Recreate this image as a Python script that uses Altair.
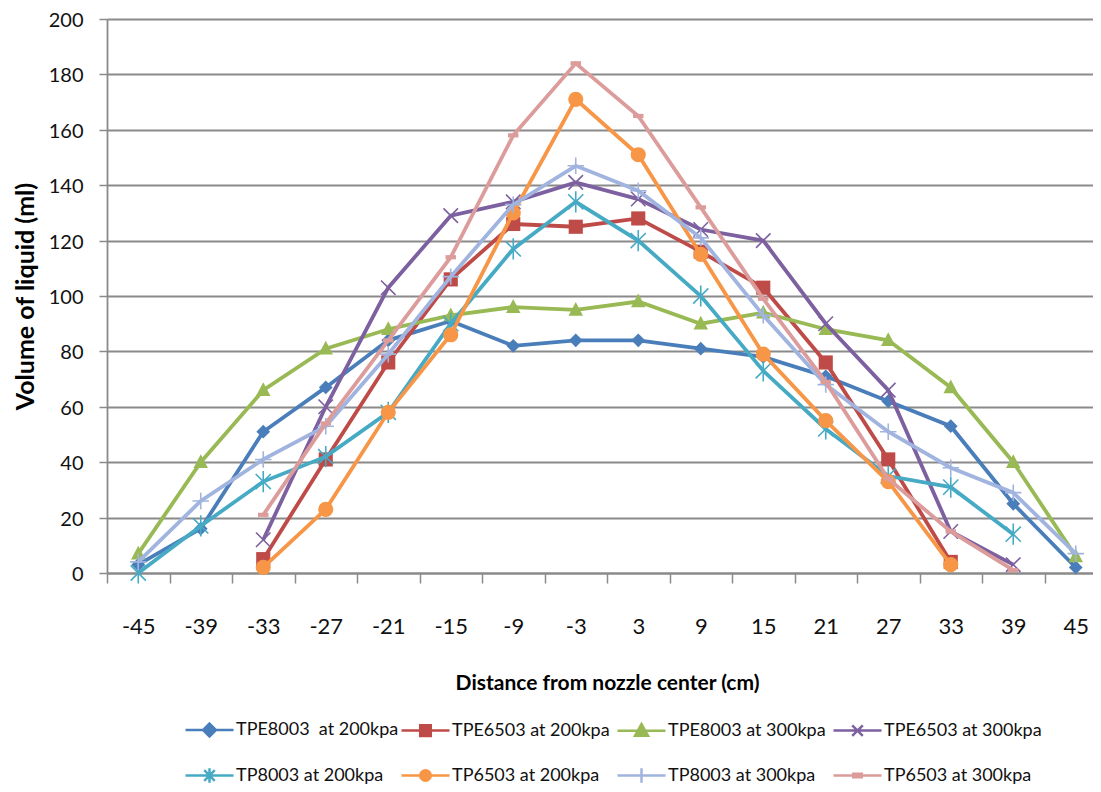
import altair as alt
import pandas as pd

# ---------------- data ----------------
distance = [-45, -39, -33, -27, -21, -15, -9, -3, 3, 9, 15, 21, 27, 33, 39, 45]
series = [
    "TPE8003\u00a0 at 200kpa", "TPE6503 at 200kpa", "TPE8003 at 300kpa", "TPE6503 at 300kpa",
    "TP8003 at 200kpa", "TP6503 at 200kpa", "TP8003 at 300kpa", "TP6503 at 300kpa",
]
N = None
tpe8003_200 = [3, 16, 51, 67, 84, 91, 82, 84, 84, 81, 78, 71, 62, 53, 25, 2]
tpe6503_200 = [N, N, 5, 41, 76, 106, 126, 125, 128, 116, 103, 76, 41, 4, N, N]
tpe8003_300 = [7, 40, 66, 81, 88, 93, 96, 95, 98, 90, 94, 88, 84, 67, 40, 6]
tpe6503_300 = [N, N, 12, 60, 103, 129, 134, 141, 135, 124, 120, 90, 66, 15, 3, N]
tp8003_200 = [0, 17, 33, 42, 58, 90, 117, 134, 120, 100, 73, 52, 35, 31, 14, N]
tp6503_200 = [N, N, 2, 23, 58, 86, 130, 171, 151, 115, 79, 55, 33, 3, N, N]
tp8003_300 = [4, 26, 41, 53, 79, 107, 133, 147, 138, 121, 93, 68, 51, 38, 29, 7]
tp6503_300 = [N, N, 21, 54, 84, 114, 158, 184, 165, 132, 99, 69, 34, 15, 1, N]
values = [tpe8003_200, tpe6503_200, tpe8003_300, tpe6503_300,
          tp8003_200, tp6503_200, tp8003_300, tp6503_300]
y_ticks = [0, 20, 40, 60, 80, 100, 120, 140, 160, 180, 200]

# ---------------- styles ----------------
colors = ["#4A7EBB", "#BE4B48", "#98B954", "#7D60A0",
          "#46AAC5", "#F79646", "#A0B4DF", "#DC9C9B"]
marker_paths = [
    "M0,-1L1,0L0,1L-1,0Z",
    "M-1,-1L1,-1L1,1L-1,1Z",
    "M0,-1.1L1,0.8L-1,0.8Z",
    "M-1,-1L1,1M-1,1L1,-1",
    "M-1,-1L1,1M-1,1L1,-1M0,-1.4L0,1.4",
    "circle",
    "M-1,0L1,0M0,-1L0,1",
    "M-1,-0.4L1,-0.4L1,0.4L-1,0.4Z",
]
marker_filled = [True, True, True, False, False, True, False, True]
marker_sizes = [190, 200, 210, 210, 230, 230, 270, 110]
L = "M-1,0L1,0"
legend_paths = [
    L + "M0,-0.27L0.27,0L0,0.27L-0.27,0Z",
    L + "M-0.22,-0.22L0.22,-0.22L0.22,0.22L-0.22,0.22Z",
    L + "M0,-0.28L0.27,0.2L-0.27,0.2Z",
    L + "M-0.22,-0.22L0.22,0.22M-0.22,0.22L0.22,-0.22",
    L + "M-0.22,-0.22L0.22,0.22M-0.22,0.22L0.22,-0.22M0,-0.3L0,0.3",
    L + "M0.22,0A0.22,0.22 0 1,1 -0.22,0A0.22,0.22 0 1,1 0.22,0Z",
    L + "M0,-0.3L0,0.3",
    L + "M-0.18,-0.07L0.18,-0.07L0.18,0.07L-0.18,0.07Z",
]

rows = []
for name, vals in zip(series, values):
    for d, v in zip(distance, vals):
        if v is not None:
            rows.append({"distance": d, "series": name, "value": v})
df = pd.DataFrame(rows)

FONT = "Lato"
GRID = "#8a8a8a"

x_enc = alt.X(
    "distance:O",
    scale=alt.Scale(type="band", domain=distance, paddingInner=0, paddingOuter=0, range=[0, 1000]),
    bandPosition=0.5,
    axis=alt.Axis(
        title="Distance from nozzle center (cm)", labelAngle=0, grid=False,
        tickBand="extent", tickSize=10, tickColor=GRID, tickWidth=1.5,
        domainColor=GRID, domainWidth=1.8,
        labelFont=FONT, labelFontSize=22, labelColor="#111", labelPadding=33,
        titleFont=FONT, titleFontSize=21, titleFontWeight="bold", titleColor="#000",
        titlePadding=35,
    ),
)
y_enc = alt.Y(
    "value:Q",
    scale=alt.Scale(domain=[0, 200]),
    axis=alt.Axis(
        title="Volume of liquid (ml)", values=y_ticks, grid=True,
        gridColor=GRID, gridWidth=1.8, domainColor=GRID, domainWidth=1.8,
        tickSize=8, tickColor=GRID, tickWidth=1.5,
        labelFont=FONT, labelFontSize=20, labelColor="#111", labelPadding=16,
        labelOffset=1.5,
        titleFont=FONT, titleFontSize=25, titleFontWeight="bold", titleColor="#000",
        titlePadding=10,
    ),
)

base = alt.Chart(df)
layers = []
for i, name in enumerate(series):
    sub = base.transform_filter(alt.datum.series == name)
    layers.append(sub.mark_line(color=colors[i], strokeWidth=3.8).encode(x=x_enc, y=y_enc))
    if marker_filled[i]:
        pt = sub.mark_point(shape=marker_paths[i], filled=True, color=colors[i],
                            size=marker_sizes[i], opacity=1)
    else:
        pt = sub.mark_point(shape=marker_paths[i], filled=False, color=colors[i],
                            size=marker_sizes[i], opacity=1, strokeWidth=1.6)
    layers.append(pt.encode(x=x_enc, y=y_enc))

leg = alt.Legend(
    title=None, orient="none", legendX=77, legendY=685, columns=4, direction="horizontal",
    gridAlign="all",
    symbolSize=2304, symbolStrokeWidth=2.5, symbolOpacity=1,
    labelFont=FONT, labelFontSize=18, labelColor="#111", labelOffset=1, labelLimit=400,
    columnPadding=-3, rowPadding=8, padding=0,
)
legend_layer = base.transform_filter("false").mark_point(filled=True, opacity=1).encode(
    x=x_enc, y=y_enc,
    color=alt.Color("series:N", scale=alt.Scale(domain=series, range=colors), legend=leg),
    stroke=alt.Stroke("series:N", scale=alt.Scale(domain=series, range=colors), legend=leg),
    shape=alt.Shape("series:N", scale=alt.Scale(domain=series, range=legend_paths), legend=leg),
)
layers.append(legend_layer)

chart = alt.layer(*layers).properties(
    width=986, height=554,
    autosize=alt.AutoSizeParams(type="none"),
    padding={"left": 99, "top": 11, "right": 0, "bottom": 211},
    background="white",
).configure_view(stroke=None)

chart.save("out.html", embed_options={"renderer": "svg", "actions": False})
